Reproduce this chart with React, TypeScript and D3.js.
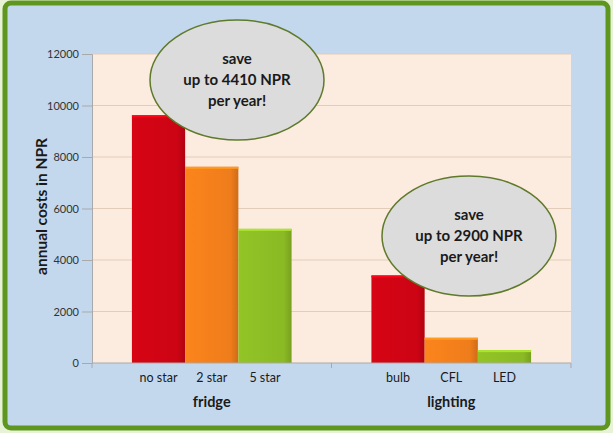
import React, { useEffect, useRef } from 'react';
import * as d3 from 'd3';

const groups = ['fridge', 'lighting'];
const fridgeLabels = ['no star', '2 star', '5 star'];
const fridgeValues = [9620, 7620, 5210];
const lightingLabels = ['bulb', 'CFL', 'LED'];
const lightingValues = [3400, 980, 500];
const barColors = ['#cc0414', '#ef7d1b', '#8aba24'];
const yTicks = [0, 2000, 4000, 6000, 8000, 10000, 12000];
const callouts = [
    { group: 'fridge', lines: ['save', 'up to 4410 NPR', 'per year!'] },
    { group: 'lighting', lines: ['save', 'up to 2900 NPR', 'per year!'] }
];

const W = 613;
const H = 433;
const FONT = 'Lato, "Open Sans", sans-serif';

const App: React.FC = () => {
    const svgRef = useRef<SVGSVGElement>(null);

    useEffect(() => {
        if (!svgRef.current) return;
        const svg = d3.select(svgRef.current);
        svg.selectAll('*').remove();

        const plot = { left: 92, right: 571, top: 54, bottom: 363 };

        // frame
        svg.append('rect').attr('width', W).attr('height', H).attr('fill', '#e8f2d6');
        svg.append('rect')
            .attr('x', 5).attr('y', 3).attr('width', W - 10).attr('height', H - 8)
            .attr('rx', 6)
            .attr('fill', '#c4d8ed')
            .attr('stroke', '#5f9620').attr('stroke-width', 5);

        const y = d3.scaleLinear().domain([0, 12000]).range([plot.bottom, plot.top]);
        const xGroup = d3.scaleBand<string>().domain(groups).range([plot.left, plot.right]);
        const xInner = d3.scaleBand<number>()
            .domain([0, 1, 2])
            .range([0, xGroup.bandwidth()])
            .paddingInner(0)
            .paddingOuter(0.75);

        svg.append('rect')
            .attr('x', plot.left).attr('y', plot.top)
            .attr('width', plot.right - plot.left).attr('height', plot.bottom - plot.top)
            .attr('fill', '#fcebdf');

        // gridlines
        svg.append('g').selectAll('line')
            .data(yTicks.slice(1))
            .enter()
            .append('line')
            .attr('x1', plot.left).attr('x2', plot.right)
            .attr('y1', d => y(d)).attr('y2', d => y(d))
            .attr('stroke', '#e3cdb9').attr('stroke-width', 1);

        // y axis
        const yAxis = d3.axisLeft(y).tickValues(yTicks).tickSize(10).tickPadding(3).tickFormat(d3.format('d'));
        const yg = svg.append('g').attr('transform', `translate(${plot.left},0)`).call(yAxis);
        yg.select('.domain').attr('stroke', '#a9a9a9');
        yg.selectAll('.tick line').attr('stroke', '#a9a9a9');
        yg.selectAll('.tick text')
            .attr('font-family', FONT).attr('font-size', 11).attr('fill', '#333');

        svg.append('text')
            .attr('transform', `translate(47,${(plot.top + plot.bottom) / 2 - 2}) rotate(-90)`)
            .attr('text-anchor', 'middle')
            .attr('font-family', FONT).attr('font-size', 15.5).attr('font-weight', 'bold')
            .attr('fill', '#1a1a1a')
            .text('annual costs in NPR');

        // bars
        const series = [
            { group: 'fridge', labels: fridgeLabels, values: fridgeValues },
            { group: 'lighting', labels: lightingLabels, values: lightingValues }
        ];
        const defs = svg.append('defs');
        barColors.forEach((c, i) => {
            const grad = defs.append('linearGradient').attr('id', `bar${i}`).attr('x1', 0).attr('x2', 1);
            grad.append('stop').attr('offset', '0%').attr('stop-color', d3.color(c)!.brighter(0.15).toString());
            grad.append('stop').attr('offset', '85%').attr('stop-color', c);
            grad.append('stop').attr('offset', '100%').attr('stop-color', d3.color(c)!.darker(0.4).toString());
        });

        series.forEach(s => {
            const g0 = xGroup(s.group)!;
            const bars = svg.append('g');
            bars.selectAll('rect')
                .data(s.values)
                .enter()
                .append('rect')
                .attr('x', (_d, i) => g0 + xInner(i)!)
                .attr('y', d => y(d))
                .attr('width', xInner.bandwidth())
                .attr('height', d => plot.bottom - y(d))
                .attr('fill', (_d, i) => `url(#bar${i})`);
            bars.selectAll('.hl')
                .data(s.values)
                .enter()
                .append('rect')
                .attr('class', 'hl')
                .attr('x', (_d, i) => g0 + xInner(i)!)
                .attr('y', d => y(d))
                .attr('width', xInner.bandwidth())
                .attr('height', 2)
                .attr('fill', (_d, i) => d3.color(barColors[i])!.brighter(0.6).toString());

            svg.append('g').selectAll('text')
                .data(s.labels)
                .enter()
                .append('text')
                .attr('x', (_d, i) => g0 + xInner(i)! + xInner.bandwidth() / 2)
                .attr('y', 382)
                .attr('text-anchor', 'middle')
                .attr('font-family', FONT).attr('font-size', 12.5).attr('fill', '#1a1a1a')
                .text(d => d);

            svg.append('text')
                .attr('x', g0 + xGroup.bandwidth() / 2)
                .attr('y', 407)
                .attr('text-anchor', 'middle')
                .attr('font-family', FONT).attr('font-size', 14.5).attr('font-weight', 'bold')
                .attr('fill', '#1a1a1a')
                .text(s.group);
        });

        // x axis
        const xa = svg.append('g');
        xa.append('line')
            .attr('x1', plot.left).attr('x2', plot.right)
            .attr('y1', plot.bottom).attr('y2', plot.bottom)
            .attr('stroke', '#a9a9a9');
        xa.selectAll('.tk')
            .data([...groups.map(g => xGroup(g)!), plot.right])
            .enter()
            .append('line')
            .attr('x1', d => d).attr('x2', d => d)
            .attr('y1', plot.bottom).attr('y2', plot.bottom + 5)
            .attr('stroke', '#a9a9a9');

        // callouts
        const ellipsePos: Record<string, { cx: number; cy: number }> = {
            fridge: { cx: 237, cy: 80 },
            lighting: { cx: 469, cy: 236 }
        };
        callouts.forEach(c => {
            const p = ellipsePos[c.group];
            svg.append('ellipse')
                .attr('cx', p.cx).attr('cy', p.cy)
                .attr('rx', 87).attr('ry', 60)
                .attr('fill', '#dcdcdc')
                .attr('stroke', '#5f7a2a').attr('stroke-width', 1.5);
            svg.append('g').selectAll('text')
                .data(c.lines)
                .enter()
                .append('text')
                .attr('x', p.cx)
                .attr('y', (_d, i) => p.cy - 15 + (i - 1) * 21 + 20)
                .attr('text-anchor', 'middle')
                .attr('font-family', FONT).attr('font-size', 15).attr('font-weight', 'bold')
                .attr('fill', '#1a1a1a')
                .text(d => d);
        });
    }, []);

    return (
        <svg
            ref={svgRef}
            width={W}
            height={H}
            style={{ position: 'fixed', left: 0, top: 0, display: 'block' }}
        />
    );
};

export default App;
